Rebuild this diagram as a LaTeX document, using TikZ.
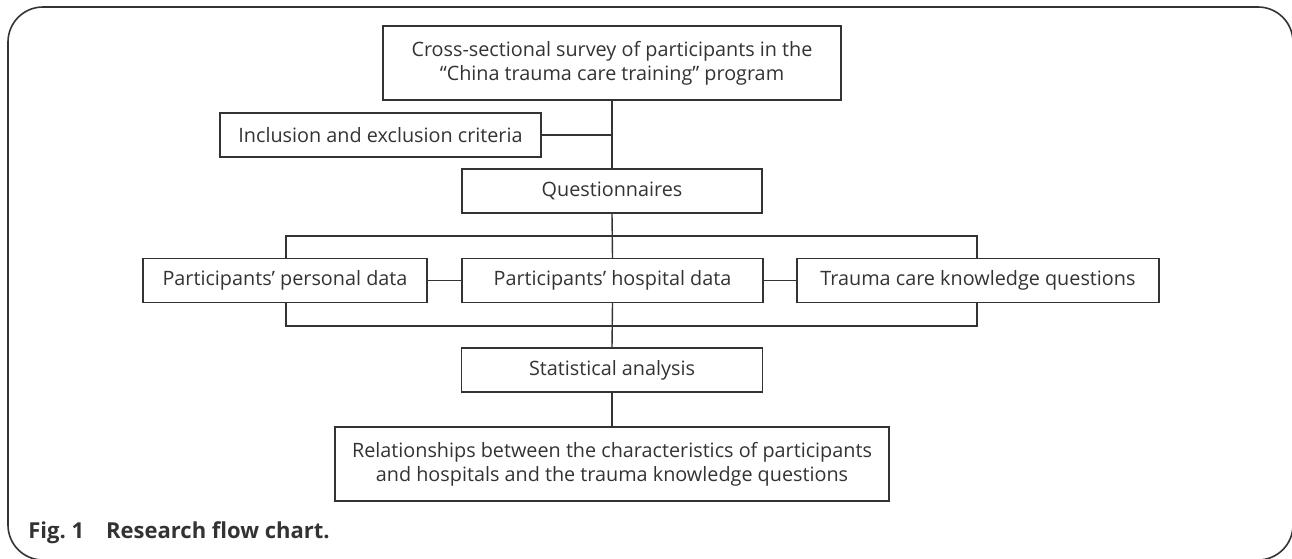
\documentclass[tikz,border=0pt]{standalone}
\usepackage{fontspec}
\setmainfont{Open Sans}
\usepackage{xcolor}
\definecolor{ink}{HTML}{333333}
\usetikzlibrary{positioning,calc}
\tikzset{
	box/.style={
			draw=ink, line width=0.7pt, text=ink,
			minimum width=#1, minimum height=22pt,
			inner sep=0pt, align=center,
			font=\fontsize{9.9}{12}\selectfont
		},
	link/.style={draw=ink, line width=0.7pt}
}

\begin{document}
\begin{tikzpicture}[x=0.5pt, y=-0.5pt]
			% Page and frame
			\useasboundingbox (0,0) rectangle (1292,558);
			\clip (0,0) rectangle (1292,558);
			\draw [ink, line width=0.8pt, rounded corners=17.5pt] (8,7) rectangle (1293,560);

			% Boxes
			\node [box=229pt, minimum height=37pt] (survey) at (612,63)
				{Cross-sectional survey of participants in the\\``China trauma care training'' program};
			\node [box=160.5pt] (criteria) at (380.5,135) {Inclusion and exclusion criteria};
			\node [box=150pt] (quest) at (612,191) {Questionnaires};
			\node [box=142pt] (personal) at (285,280.5) {Participants' personal data};
			\node [box=150.5pt] (hospital) at (612.5,280.5) {Participants' hospital data};
			\node [box=181pt] (trauma) at (978,280.5) {Trauma care knowledge questions};
			\node [box=150.5pt] (stats) at (612,370) {Statistical analysis};
			\node [box=277pt, minimum height=37pt] (relation) at (612,464)
				{Relationships between the characteristics of participants\\and hospitals and the trauma knowledge questions};

			% Bracket corners
			\coordinate (topL) at (286,236);
			\coordinate (topR) at (977,236);
			\coordinate (botL) at (286,326);
			\coordinate (botR) at (977,326);

			% Draw lines
			\draw [link] (survey.south) -- (quest.north);
			\draw [link] (criteria.east) -- (criteria.east -| survey.south);
			\draw [link] (quest.south) -- (hospital.north);
			\draw [link] (personal.north -| topL) -- (topL) -- (topR) -- (trauma.north -| topR);
			\draw [link] (personal.south -| botL) -- (botL) -- (botR) -- (trauma.south -| botR);
			\draw [link] (personal.east) -- (hospital.west);
			\draw [link] (hospital.east) -- (trauma.west);
			\draw [link] (hospital.south) -- (stats.north);
			\draw [link] (stats.south) -- (relation.north);

			% Caption
			\node [anchor=base west, inner sep=0pt, text=ink, font=\bfseries\fontsize{11}{13}\selectfont] (caption) at (28,538)
				{Fig.~1\quad Research flow chart.};
		\end{tikzpicture}
\end{document}
